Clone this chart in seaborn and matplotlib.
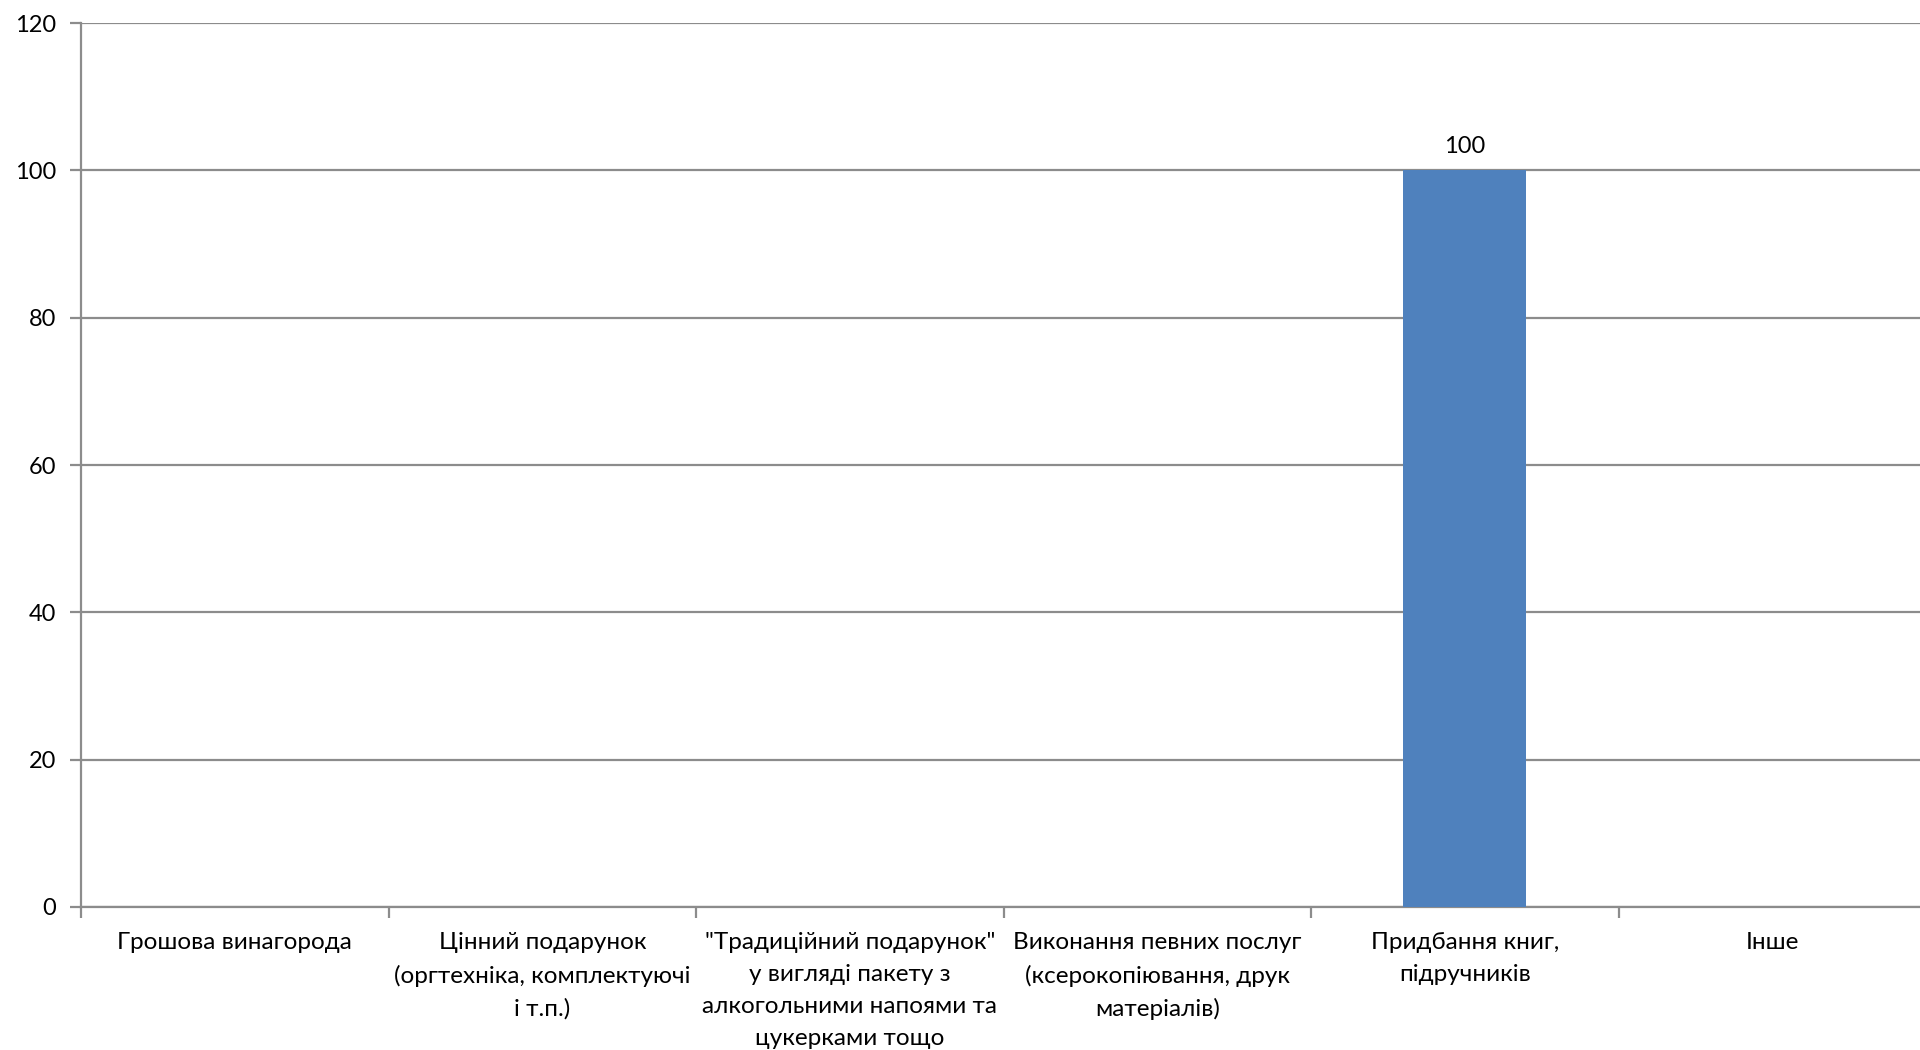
import numpy as np
import pandas as pd
import matplotlib
matplotlib.use("Agg")
import matplotlib.pyplot as plt
from matplotlib.ticker import FixedLocator
import seaborn as sns

categories = [
    "Грошова винагорода",
    "Цінний подарунок\n(оргтехніка, комплектуючі\nі т.п.)",
    "\"Традиційний подарунок\"\nу вигляді пакету з\nалкогольними напоями та\nцукерками тощо",
    "Виконання певних послуг\n(ксерокопіювання, друк\nматеріалів)",
    "Придбання книг,\nпідручників",
    "Інше",
]
values = [0, 0, 0, 0, 100, 0]
y_ticks = [0, 20, 40, 60, 80, 100, 120]

sns.set_theme(style="white")
plt.rcParams['font.family'] = ['Lato', 'DejaVu Sans']

df = pd.DataFrame({"cat": categories, "val": values})

fig = plt.figure(figsize=(19.2, 10.5), dpi=100)
ax = fig.add_axes([0.0422, 0.1362, 0.961, 0.8418])

sns.barplot(data=df, x="cat", y="val", order=categories, color="#4F81BD",
            saturation=1, width=0.4, linewidth=0, ax=ax, zorder=3)

# gridlines
grid_col = "#8C8C8C"
ax.set_ylim(0, 120)
ax.set_yticks(y_ticks)
ax.set_yticklabels([str(t) for t in y_ticks], fontsize=17, color="black")
ax.yaxis.grid(True, color=grid_col, linewidth=1.6, zorder=0)
ax.set_axisbelow(True)

ax.set_xlim(-0.5, len(categories) - 0.5)
ax.set_xticks(range(len(categories)))
ax.set_xticklabels(categories, fontsize=17.5, linespacing=1.64,
                   ha="center", va="top", color="black")
ax.tick_params(axis="x", which="major", length=0, pad=18)
ax.xaxis.set_minor_locator(FixedLocator(np.arange(-0.5, len(categories), 1.0)))
ax.tick_params(axis="x", which="minor", bottom=True, length=8, width=1.6,
               color=grid_col, direction="out")
ax.tick_params(axis="y", which="major", left=True, length=8, width=1.6,
               color=grid_col, direction="out", pad=10)

for s in ["top", "right"]:
    ax.spines[s].set_visible(False)
for s in ["left", "bottom"]:
    ax.spines[s].set_color(grid_col)
    ax.spines[s].set_linewidth(1.6)

ax.set_xlabel("")
ax.set_ylabel("")

labels = [str(v) if v else "" for v in values]
ax.bar_label(ax.containers[0], labels=labels, padding=10, fontsize=17,
             color="black")

fig.savefig("out.png", dpi=100, facecolor="white")
